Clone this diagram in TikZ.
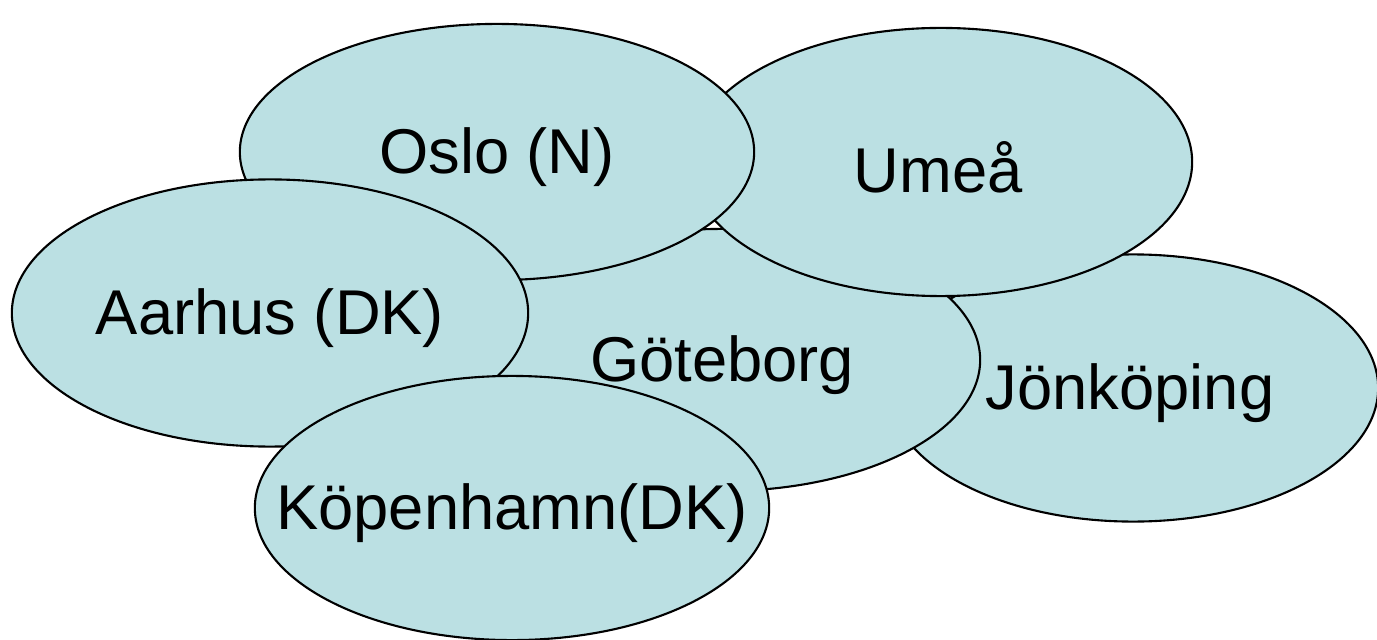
\documentclass[tikz,border=0pt]{standalone}
\usepackage{fontspec}
\setmainfont{Liberation Sans}
\usetikzlibrary{shapes.geometric}
\definecolor{cityblue}{RGB}{187,224,227}
\tikzstyle{City}=[draw,ellipse,fill=cityblue,line width=0.6pt,inner sep=0pt]
\tikzstyle{Name}=[font=\fontsize{18}{22}\selectfont,yshift=-0.05cm]

\begin{document}
\begin{tikzpicture}[x=0.01cm,y=-0.01cm]

    \useasboundingbox (0,0) rectangle (1377,640);

    \node[City,minimum width=4.9cm,minimum height=2.67cm,label={[Name,xshift=-0.03cm]center:Jönköping}] (jon) at (1133,388) {};
    \node[City,minimum width=5.16cm,minimum height=2.62cm,label={[Name]center:Göteborg}] (got) at (722,360) {};
    \node[City,minimum width=5.02cm,minimum height=2.68cm,label={[Name,xshift=-0.03cm]center:Umeå}] (ume) at (941,162) {};
    \node[City,minimum width=5.14cm,minimum height=2.56cm,label={[Name]center:Oslo (N)}] (osl) at (497,152) {};
    \node[City,minimum width=5.16cm,minimum height=2.67cm,label={[Name]center:Aarhus (DK)}] (aar) at (270,313) {};
    \node[City,minimum width=5.14cm,minimum height=2.64cm,label={[Name]center:Köpenhamn(DK)}] (kop) at (512,508) {};

\end{tikzpicture}
\end{document}
